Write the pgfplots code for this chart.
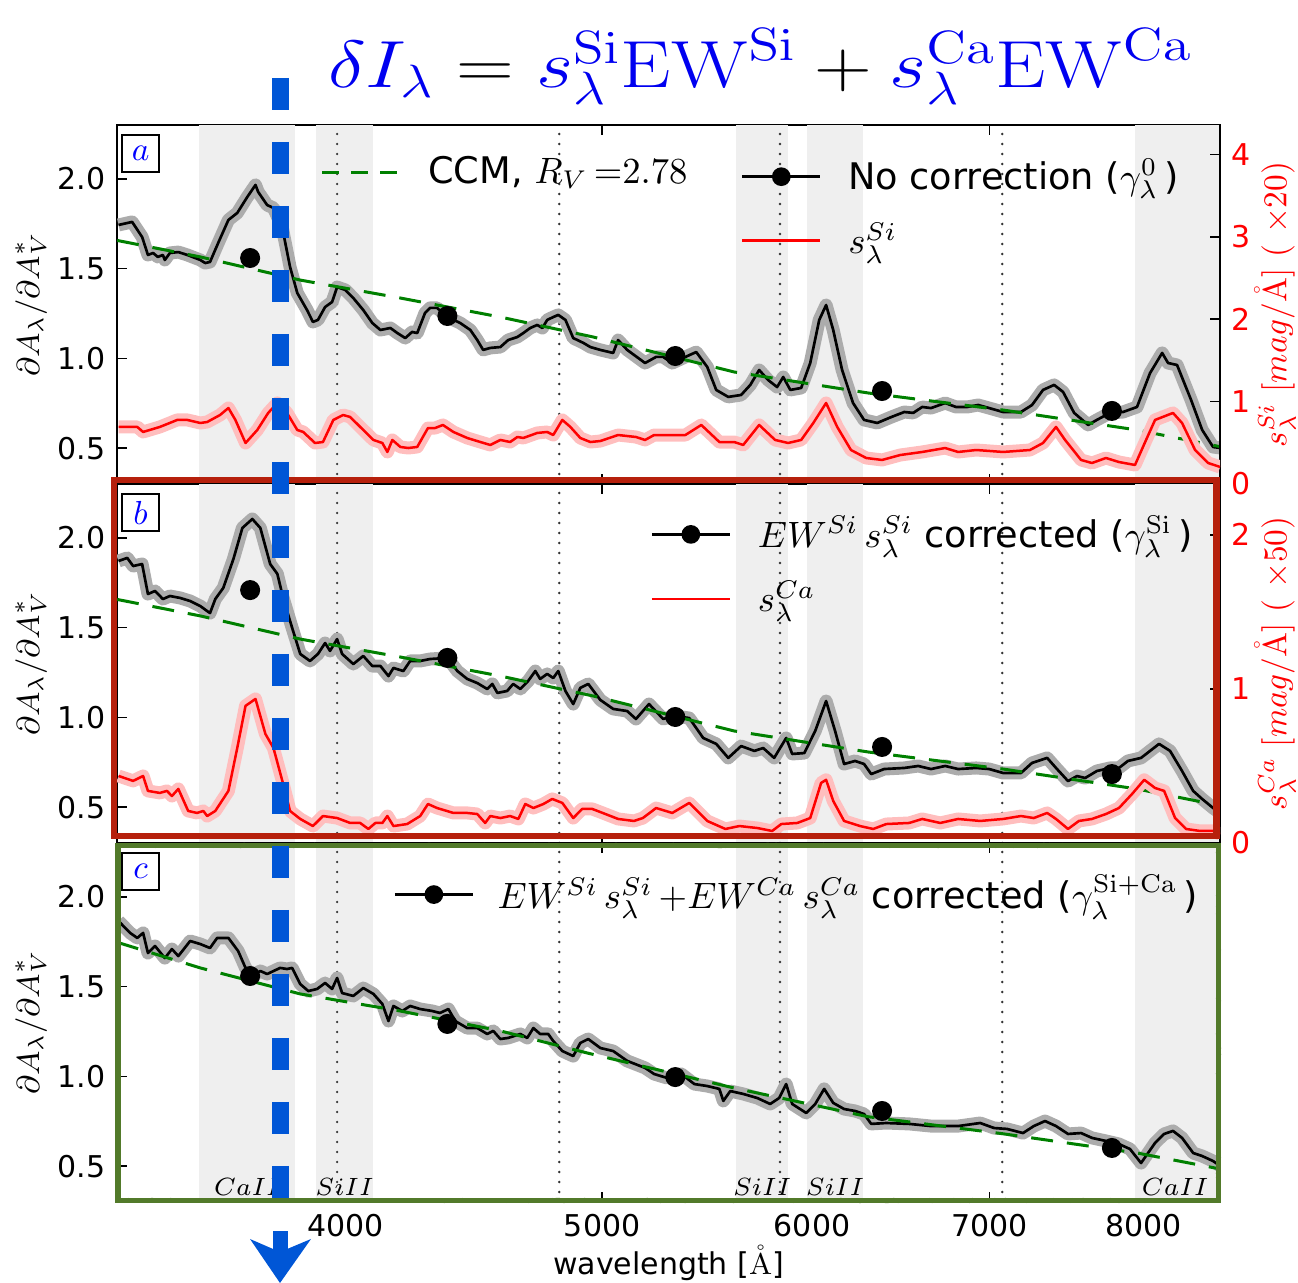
\RequirePackage{fix-cm}
\documentclass[border=0pt]{standalone}
\usepackage[no-math]{fontspec}
\setmainfont{DejaVu Sans}
\usepackage{pgfplots}
\usepackage{pgfplotstable}
\pgfplotsset{compat=1.18}
\usetikzlibrary{decorations.pathmorphing}

\definecolor{shadegray}{RGB}{239,239,239}
\definecolor{bandgray}{RGB}{172,172,172}
\definecolor{bandpink}{RGB}{255,190,190}
\definecolor{ccmgreen}{RGB}{0,128,0}
\definecolor{markblue}{RGB}{0,86,214}
\definecolor{titleblue}{RGB}{0,0,240}
\definecolor{boxred}{RGB}{182,32,12}
\definecolor{boxgreen}{RGB}{82,122,42}

\pgfplotsset{legend image code/.code={\draw[mark repeat=2,mark phase=2,#1] plot coordinates {(0pt,0pt) (11.7pt,0pt) (23.4pt,0pt)};}}

% ---------------- panel a: no correction ----------------
\pgfplotstableread{
lam v
3285 1.743
3324 1.760
3353 1.676
3370 1.576
3385 1.587
3399 1.565
3414 1.576
3420 1.548
3435 1.587
3460 1.592
3487 1.576
3527 1.548
3542 1.531
3557 1.537
3582 1.643
3614 1.771
3642 1.810
3674 1.899
3700 1.966
3709 1.927
3738 1.854
3758 1.838
3787 1.732
3813 1.509
3837 1.364
3870 1.269
3890 1.203
3907 1.214
3931 1.286
3955 1.314
3972 1.397
4000 1.381
4028 1.336
4063 1.269
4095 1.197
4124 1.158
4160 1.169
4185 1.141
4214 1.113
4239 1.147
4258 1.141
4287 1.253
4306 1.281
4332 1.281
4371 1.230
4420 1.197
4459 1.158
4486 1.102
4509 1.047
4537 1.058
4577 1.063
4608 1.102
4645 1.119
4669 1.141
4697 1.169
4726 1.186
4747 1.169
4767 1.214
4792 1.230
4813 1.242
4843 1.214
4876 1.113
4919 1.086
4949 1.063
4992 1.047
5048 1.030
5070 1.102
5110 1.047
5190 0.974
5240 1.008
5272 1.008
5314 0.974
5375 1.008
5426 1.035
5478 0.952
5521 0.824
5579 0.785
5642 0.796
5687 0.852
5731 0.935
5776 0.879
5821 0.840
5852 0.896
5888 0.824
5944 0.835
5991 0.974
6038 1.214
6074 1.297
6112 1.158
6159 0.935
6218 0.751
6278 0.657
6350 0.640
6428 0.673
6501 0.701
6552 0.696
6603 0.729
6654 0.723
6736 0.751
6800 0.729
6866 0.729
6932 0.740
6998 0.723
7084 0.701
7195 0.701
7264 0.740
7334 0.824
7405 0.852
7463 0.813
7535 0.696
7627 0.629
7686 0.657
7773 0.696
7862 0.701
7958 0.729
8048 0.918
8133 1.030
8175 0.974
8239 0.963
8340 0.768
8421 0.601
8501 0.506
8553 0.501
}\aBlack

\pgfplotstableread{
lam v
3285 0.693
3339 0.693
3356 0.632
3405 0.693
3457 0.778
3487 0.778
3527 0.741
3548 0.753
3588 0.838
3614 0.923
3636 0.778
3668 0.498
3706 0.656
3741 0.863
3771 0.984
3803 0.863
3837 0.656
3857 0.632
3897 0.498
3924 0.510
3959 0.778
3993 0.838
4017 0.814
4063 0.656
4099 0.535
4131 0.498
4149 0.389
4167 0.535
4196 0.450
4225 0.437
4258 0.450
4298 0.680
4325 0.680
4354 0.717
4394 0.632
4447 0.559
4498 0.510
4537 0.474
4577 0.535
4616 0.510
4645 0.571
4669 0.559
4726 0.620
4767 0.632
4792 0.595
4830 0.778
4864 0.693
4906 0.559
4949 0.510
4992 0.522
5070 0.595
5149 0.571
5190 0.535
5231 0.595
5314 0.595
5375 0.595
5450 0.717
5536 0.510
5608 0.510
5652 0.474
5731 0.717
5811 0.535
5877 0.498
5944 0.535
6007 0.741
6074 0.984
6133 0.693
6207 0.413
6289 0.316
6377 0.292
6478 0.352
6603 0.389
6736 0.437
6812 0.389
6920 0.413
7084 0.389
7251 0.413
7334 0.498
7417 0.693
7476 0.535
7580 0.292
7653 0.255
7746 0.316
7834 0.267
7944 0.231
8020 0.535
8083 0.778
8210 0.863
8275 0.741
8369 0.413
8465 0.255
8553 0.207
}\aRed

\pgfplotstableread{
lam v
3683 1.559
4371 1.236
5328 1.013
6377 0.818
7786 0.707
}\aDots

% ---------------- panel b: Si corrected ----------------
\pgfplotstableread{
lam v
3285 1.871
3310 1.888
3327 1.843
3353 1.854
3370 1.687
3391 1.704
3414 1.659
3435 1.676
3466 1.665
3496 1.648
3527 1.620
3548 1.592
3557 1.581
3573 1.659
3598 1.721
3630 1.882
3658 2.055
3690 2.105
3716 2.055
3748 1.854
3771 1.799
3790 1.665
3820 1.498
3847 1.353
3880 1.314
3907 1.353
3931 1.414
3948 1.370
3972 1.436
3990 1.353
4028 1.297
4063 1.342
4095 1.286
4124 1.286
4153 1.230
4171 1.275
4207 1.258
4232 1.314
4269 1.314
4306 1.325
4371 1.331
4409 1.258
4447 1.214
4486 1.191
4525 1.158
4545 1.186
4565 1.136
4604 1.147
4628 1.186
4657 1.158
4689 1.203
4718 1.258
4738 1.214
4767 1.242
4792 1.219
4813 1.258
4843 1.147
4876 1.074
4906 1.164
4940 1.186
4992 1.097
5048 1.047
5110 1.035
5149 0.991
5208 1.074
5272 0.991
5323 1.008
5393 0.996
5459 0.885
5521 0.852
5579 0.774
5642 0.840
5707 0.813
5751 0.829
5806 0.774
5867 0.885
5898 0.796
5960 0.801
6017 0.924
6074 1.091
6122 0.924
6170 0.740
6229 0.757
6278 0.740
6317 0.684
6388 0.712
6501 0.718
6580 0.729
6654 0.712
6736 0.729
6812 0.712
6920 0.718
6998 0.712
7084 0.690
7195 0.690
7264 0.746
7360 0.774
7417 0.718
7495 0.645
7554 0.673
7607 0.662
7686 0.701
7773 0.718
7834 0.718
7896 0.757
7986 0.774
8048 0.813
8111 0.852
8189 0.813
8275 0.701
8355 0.590
8421 0.545
8501 0.495
8553 0.467
}\bBlack

\pgfplotstableread{
lam v
3285 0.435
3327 0.403
3356 0.435
3370 0.338
3405 0.325
3426 0.338
3441 0.305
3460 0.351
3490 0.208
3517 0.195
3536 0.208
3548 0.175
3573 0.208
3614 0.338
3642 0.617
3668 0.890
3700 0.935
3732 0.708
3758 0.617
3790 0.383
3813 0.208
3847 0.156
3890 0.110
3924 0.175
3972 0.162
4017 0.130
4052 0.130
4081 0.091
4106 0.130
4131 0.130
4149 0.175
4171 0.110
4221 0.123
4269 0.175
4298 0.253
4332 0.227
4394 0.195
4447 0.195
4486 0.188
4517 0.130
4537 0.175
4577 0.162
4616 0.175
4649 0.156
4677 0.253
4710 0.227
4751 0.253
4788 0.286
4830 0.260
4876 0.162
4914 0.221
4957 0.221
4992 0.201
5070 0.156
5140 0.143
5180 0.162
5240 0.227
5314 0.195
5393 0.260
5478 0.143
5565 0.091
5633 0.110
5722 0.097
5796 0.078
5842 0.123
5924 0.130
5991 0.162
6048 0.390
6074 0.410
6112 0.273
6170 0.143
6256 0.110
6328 0.091
6400 0.123
6529 0.130
6603 0.156
6707 0.130
6812 0.156
6944 0.143
7084 0.156
7195 0.175
7276 0.162
7360 0.195
7417 0.156
7495 0.091
7567 0.143
7653 0.156
7746 0.188
7834 0.227
7924 0.318
8007 0.410
8083 0.357
8147 0.338
8225 0.162
8304 0.091
8406 0.078
8501 0.078
8553 0.058
}\bRed

\pgfplotstableread{
lam v
3683 1.709
4371 1.331
5328 1.002
6377 0.835
7786 0.684
}\bDots

% ---------------- panel c: Si + Ca corrected ----------------
\pgfplotstableread{
lam v
3285 1.865
3318 1.799
3339 1.771
3356 1.799
3370 1.687
3391 1.726
3420 1.659
3441 1.709
3460 1.670
3496 1.754
3527 1.737
3557 1.715
3579 1.771
3614 1.771
3645 1.698
3668 1.604
3690 1.559
3716 1.587
3738 1.570
3780 1.604
3803 1.598
3820 1.604
3847 1.514
3874 1.475
3904 1.487
3931 1.520
3955 1.487
3972 1.548
3990 1.464
4028 1.448
4063 1.492
4099 1.459
4131 1.403
4153 1.308
4171 1.392
4203 1.364
4232 1.392
4269 1.375
4314 1.364
4343 1.353
4375 1.375
4401 1.308
4447 1.269
4486 1.269
4525 1.236
4549 1.253
4577 1.208
4608 1.214
4657 1.236
4685 1.214
4710 1.269
4738 1.236
4771 1.236
4792 1.197
4830 1.141
4876 1.113
4906 1.186
4940 1.208
4992 1.158
5048 1.141
5110 1.086
5190 1.047
5231 1.013
5290 0.991
5356 1.013
5417 0.957
5478 0.946
5536 0.930
5555 0.863
5589 0.918
5652 0.902
5722 0.879
5786 0.846
5831 0.879
5867 0.957
5898 0.846
5970 0.796
6017 0.846
6064 0.930
6112 0.852
6170 0.818
6229 0.807
6278 0.790
6317 0.735
6400 0.740
6529 0.735
6654 0.723
6812 0.723
6944 0.740
7029 0.712
7108 0.707
7207 0.684
7276 0.723
7347 0.751
7417 0.723
7495 0.679
7580 0.684
7653 0.657
7746 0.640
7834 0.623
7910 0.595
7986 0.517
8083 0.629
8147 0.679
8210 0.696
8275 0.657
8355 0.573
8421 0.556
8501 0.528
8553 0.501
}\cBlack

\pgfplotstableread{
lam v
3683 1.559
4371 1.292
5328 0.996
6377 0.807
7786 0.601
}\cDots

% ---------------- CCM reddening law ----------------
\pgfplotstableread{
lam v
3281 1.657
3527 1.565
3847 1.436
4196 1.336
4577 1.230
4961 1.119
5608 0.924
6300 0.807
7084 0.712
7958 0.601
8553 0.508
}\ccmAB

\pgfplotstableread{
lam v
3281 1.747
3527 1.604
3847 1.459
4196 1.364
4577 1.253
4936 1.130
5608 0.935
6300 0.775
7084 0.680
7958 0.573
8553 0.484
}\ccmC

% line-feature windows and reference wavelengths
\newcommand{\featurebands}{%
  \fill[shadegray] (axis cs:3524,0.3) rectangle (axis cs:3830,2.3);
  \fill[shadegray] (axis cs:3900,0.3) rectangle (axis cs:4098,2.3);
  \fill[shadegray] (axis cs:5618,0.3) rectangle (axis cs:5877,2.3);
  \fill[shadegray] (axis cs:5975,0.3) rectangle (axis cs:6273,2.3);
  \fill[shadegray] (axis cs:7945,0.3) rectangle (axis cs:8553,2.3);
  \draw[black!80, line width=0.8pt, line cap=round, dash pattern=on 0pt off 3pt] (axis cs:3972,0.3) -- (axis cs:3972,2.3);
  \draw[black!80, line width=0.8pt, line cap=round, dash pattern=on 0pt off 3pt] (axis cs:4817,0.3) -- (axis cs:4817,2.3);
  \draw[black!80, line width=0.8pt, line cap=round, dash pattern=on 0pt off 3pt] (axis cs:5836,0.3) -- (axis cs:5836,2.3);
  \draw[black!80, line width=0.8pt, line cap=round, dash pattern=on 0pt off 3pt] (axis cs:7078,0.3) -- (axis cs:7078,2.3);
}
\newcommand{\panelletter}[1]{%
  \node[draw=black, line width=0.6pt, fill=white, minimum size=11.1pt, inner sep=0pt]
    at (axis description cs:0.0213,0.9206) {\fontsize{10}{10}\selectfont\textcolor{blue}{$#1$}};
}

\begin{document}
\begin{tikzpicture}
\useasboundingbox (0,0) rectangle (389.4pt,-384.9pt);

% ===== panel a =====
\begin{axis}[at={(35.1pt,-37.5pt)}, anchor=north west,
  width=330.9pt, height=107.7pt, scale only axis,
  xmode=log, xmin=3281, xmax=8553,
  xtick={4000,5000,6000,7000,8000}, xticklabels={,,,,},
  ymin=0.3, ymax=2.3, ytick={0.5,1.0,1.5,2.0}, yticklabels={0.5,1.0,1.5,2.0},
  ytick pos=left,
  tick align=inside, major tick length=3pt,
  axis line style={line width=0.6pt},
  tick style={black, line width=0.5pt},
  tick label style={font=\fontsize{9}{10.8}\selectfont},
  ylabel={$\partial A_\lambda/\partial A_V^*$},
  ylabel style={at={(axis description cs:-0.078,0.5)}, anchor=center, font=\fontsize{9.5}{11}\selectfont},
  legend cell align=left,
  legend style={draw=none, fill=none, inner sep=0pt, font=\fontsize{11}{13}\selectfont,
    at={(axis description cs:0.184,0.869)}, anchor=west}]
  \featurebands
  \addplot[bandgray, line width=3.9pt, line join=round, forget plot] table[x=lam,y=v] {\aBlack};
  \addplot[black, line width=0.8pt, line join=round, forget plot] table[x=lam,y=v] {\aBlack};
  \addplot[ccmgreen, line width=0.9pt, dash pattern=on 6.6pt off 4.2pt, forget plot] table[x=lam,y=v] {\ccmAB};
  \addplot[only marks, mark=*, mark size=2.8pt, black, forget plot] table[x=lam,y=v] {\aDots};
  \panelletter{a}
  \addlegendimage{ccmgreen, line width=0.9pt, dash pattern=on 5pt off 3.7pt}
  \addlegendentry{\hspace{6pt}CCM{,} $R_V\,{=}2.78$}
\end{axis}
\begin{axis}[at={(35.1pt,-37.5pt)}, anchor=north west,
  width=330.9pt, height=107.7pt, scale only axis,
  xmode=log, xmin=3281, xmax=8553,
  axis x line=none, axis y line*=right,
  ymin=0, ymax=4.36, ytick={0,1,2,3,4}, yticklabels={0,1,2,3,4},
  tick align=inside, major tick length=3pt,
  axis line style={line width=0.6pt},
  tick style={black, line width=0.5pt},
  tick label style={font=\fontsize{9}{10.8}\selectfont},
  yticklabel style={text=red},
  ylabel={$s^{Si}_{\lambda}\ [mag/\mathring{\mathrm{A}}]\ (\ \times 20)$},
  ylabel style={at={(axis description cs:1.050,0.5)}, anchor=center, text=red, font=\fontsize{10}{12}\selectfont},
  legend cell align=left,
  legend style={draw=none, fill=none, inner sep=0pt, row sep=4.6pt, font=\fontsize{11}{13}\selectfont,
    at={(axis description cs:0.565,0.925)}, anchor=north west}]
  \addplot[bandpink, line width=3.9pt, line join=round, forget plot] table[x=lam,y=v] {\aRed};
  \addplot[red, line width=0.75pt, line join=round, forget plot] table[x=lam,y=v] {\aRed};
  \addlegendimage{black, line width=0.8pt, mark=*, mark size=2.4pt}
  \addlegendentry{\hspace{6pt}No correction ($\gamma^{0}_{\lambda}$\,)}
  \addlegendimage{red, line width=0.75pt}
  \addlegendentry{\hspace{6pt}$s^{Si}_{\lambda}$}
\end{axis}

% ===== panel b =====
\begin{axis}[at={(35.1pt,-145.2pt)}, anchor=north west,
  width=330.9pt, height=107.7pt, scale only axis,
  xmode=log, xmin=3281, xmax=8553,
  xtick={4000,5000,6000,7000,8000}, xticklabels={,,,,},
  ymin=0.3, ymax=2.3, ytick={0.5,1.0,1.5,2.0}, yticklabels={0.5,1.0,1.5,2.0},
  ytick pos=left,
  tick align=inside, major tick length=3pt,
  axis line style={line width=0.6pt},
  tick style={black, line width=0.5pt},
  tick label style={font=\fontsize{9}{10.8}\selectfont},
  ylabel={$\partial A_\lambda/\partial A_V^*$},
  ylabel style={at={(axis description cs:-0.078,0.5)}, anchor=center, font=\fontsize{9.5}{11}\selectfont}]
  \featurebands
  \addplot[bandgray, line width=3.9pt, line join=round, forget plot] table[x=lam,y=v] {\bBlack};
  \addplot[black, line width=0.8pt, line join=round, forget plot] table[x=lam,y=v] {\bBlack};
  \addplot[ccmgreen, line width=0.9pt, dash pattern=on 6.6pt off 4.2pt, forget plot] table[x=lam,y=v] {\ccmAB};
  \addplot[only marks, mark=*, mark size=2.8pt, black, forget plot] table[x=lam,y=v] {\bDots};
  \panelletter{b}
\end{axis}
\begin{axis}[at={(35.1pt,-145.2pt)}, anchor=north west,
  width=330.9pt, height=107.7pt, scale only axis,
  xmode=log, xmin=3281, xmax=8553,
  axis x line=none, axis y line*=right,
  ymin=0, ymax=2.33, ytick={0,1,2}, yticklabels={0,1,2},
  tick align=inside, major tick length=3pt,
  axis line style={line width=0.6pt},
  tick style={black, line width=0.5pt},
  tick label style={font=\fontsize{9}{10.8}\selectfont},
  yticklabel style={text=red},
  ylabel={$s^{Ca}_{\lambda}\ [mag/\mathring{\mathrm{A}}]\ (\ \times 50)$},
  ylabel style={at={(axis description cs:1.050,0.5)}, anchor=center, text=red, font=\fontsize{10}{12}\selectfont},
  legend cell align=left,
  legend style={draw=none, fill=none, inner sep=0pt, row sep=4.6pt, font=\fontsize{11}{13}\selectfont,
    at={(axis description cs:0.483,0.930)}, anchor=north west}]
  \addplot[bandpink, line width=3.9pt, line join=round, forget plot] table[x=lam,y=v] {\bRed};
  \addplot[red, line width=0.75pt, line join=round, forget plot] table[x=lam,y=v] {\bRed};
  \addlegendimage{black, line width=0.8pt, mark=*, mark size=2.4pt}
  \addlegendentry{\hspace{6pt}$EW^{Si}\,s^{Si}_{\lambda}$ corrected ($\gamma^{\mathrm{Si}}_{\lambda}$\,)}
  \addlegendimage{red, line width=0.75pt}
  \addlegendentry{\hspace{6pt}$s^{Ca}_{\lambda}$}
\end{axis}

% ===== panel c =====
\begin{axis}[at={(35.1pt,-252.9pt)}, anchor=north west,
  width=330.9pt, height=107.7pt, scale only axis,
  xmode=log, xmin=3281, xmax=8553,
  xtick={4000,5000,6000,7000,8000}, xticklabels={4000,5000,6000,7000,8000},
  ymin=0.3, ymax=2.3, ytick={0.5,1.0,1.5,2.0}, yticklabels={0.5,1.0,1.5,2.0},
  tick align=inside, major tick length=3pt,
  axis line style={line width=0.6pt},
  tick style={black, line width=0.5pt},
  tick label style={font=\fontsize{9}{10.8}\selectfont},
  ylabel={$\partial A_\lambda/\partial A_V^*$},
  ylabel style={at={(axis description cs:-0.078,0.5)}, anchor=center, font=\fontsize{9.5}{11}\selectfont},
  xlabel={wavelength [$\mathring{\mathrm{A}}$]},
  xlabel style={at={(axis description cs:0.5,-0.17)}, anchor=center, font=\fontsize{9}{10.8}\selectfont},
  legend cell align=left,
  legend style={draw=none, fill=none, inner sep=0pt, font=\fontsize{11}{13}\selectfont,
    at={(axis description cs:0.250,0.930)}, anchor=north west}]
  \featurebands
  \addplot[bandgray, line width=3.9pt, line join=round, forget plot] table[x=lam,y=v] {\cBlack};
  \addplot[black, line width=0.8pt, line join=round, forget plot] table[x=lam,y=v] {\cBlack};
  \addplot[ccmgreen, line width=0.9pt, dash pattern=on 6.6pt off 4.2pt, forget plot] table[x=lam,y=v] {\ccmC};
  \addplot[only marks, mark=*, mark size=2.8pt, black, forget plot] table[x=lam,y=v] {\cDots};
  \panelletter{c}
  \node[anchor=base, yshift=1.8pt, font=\fontsize{7.5}{8}\selectfont] at (axis cs:3674,0.3) {$CaII$};
  \node[anchor=base, yshift=1.8pt, font=\fontsize{7.5}{8}\selectfont] at (axis cs:3998,0.3) {$SiII$};
  \node[anchor=base, yshift=1.8pt, font=\fontsize{7.5}{8}\selectfont] at (axis cs:5746,0.3) {$SiII$};
  \node[anchor=base, yshift=1.8pt, font=\fontsize{7.5}{8}\selectfont] at (axis cs:6122,0.3) {$SiII$};
  \node[anchor=base, yshift=1.8pt, font=\fontsize{7.5}{8}\selectfont] at (axis cs:8225,0.3) {$CaII$};
  \addlegendimage{black, line width=0.8pt, mark=*, mark size=2.4pt}
  \addlegendentry{\hspace{5pt}$EW^{Si}\,s^{Si}_{\lambda}\,{+}EW^{Ca}\,s^{Ca}_{\lambda}$ corrected ($\gamma^{\mathrm{Si+Ca}}_{\lambda}$\,)}
\end{axis}

% highlighted panels
\draw[boxred, line width=2.0pt] (34.2pt,-144pt) rectangle (364.95pt,-250.8pt);
\draw[boxred, line width=0.8pt, line join=round, decorate, decoration={random steps, segment length=0.6pt, amplitude=0.5pt}]
  (34.2pt,-144pt) rectangle (364.95pt,-250.8pt);
\draw[boxgreen, line width=1.7pt] (35.4pt,-253.65pt) rectangle (365.55pt,-360.15pt);
\draw[boxgreen, line width=0.7pt, line join=round, decorate, decoration={random steps, segment length=0.6pt, amplitude=0.45pt}]
  (35.4pt,-253.65pt) rectangle (365.55pt,-360.15pt);

% marker of the Ca II region and the relation
\draw[markblue, line width=5.1pt, dash pattern=on 9.6pt off 9.6pt] (84pt,-23.4pt) -- (84pt,-359.4pt);
\fill[markblue] (81.9pt,-369.3pt) rectangle (86.4pt,-376pt);
\fill[markblue] (75pt,-371.7pt) -- (84pt,-375.6pt) -- (93.3pt,-371.7pt) -- (84pt,-384.9pt) -- cycle;
\node[anchor=base, xscale=1.2, font=\fontsize{20}{24}\selectfont] at (228pt,-26.4pt)
  {$\textcolor{titleblue}{\delta I_\lambda} = \textcolor{titleblue}{s^{\mathrm{Si}}_\lambda\mathrm{EW}^{\mathrm{Si}}} + \textcolor{titleblue}{s^{\mathrm{Ca}}_\lambda\mathrm{EW}^{\mathrm{Ca}}}$};
\end{tikzpicture}
\end{document}
